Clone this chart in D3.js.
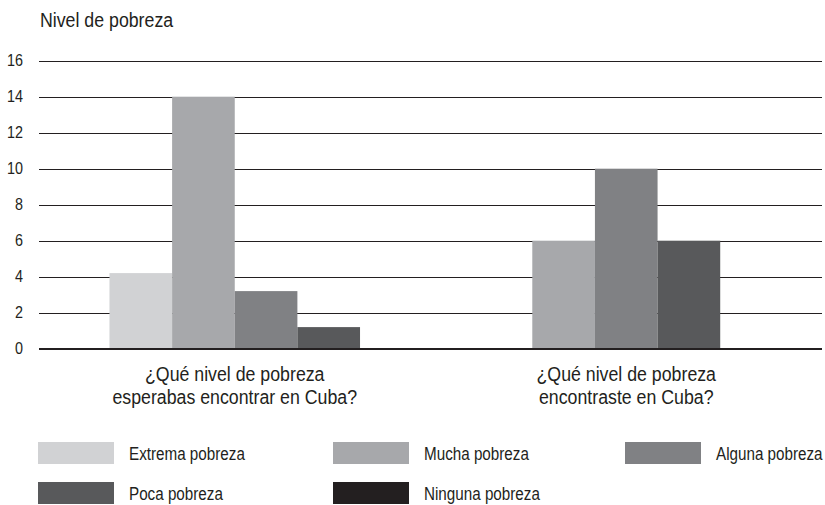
<!DOCTYPE html>
<html>
<head>
<meta charset="utf-8">
<script src="https://cdn.jsdelivr.net/npm/d3@7"></script>
<style>
  html, body { margin: 0; padding: 0; background: #fff; }
  svg { display: block; }
  text { font-family: "Liberation Sans", Arial, sans-serif; fill: #231f20; }
</style>
</head>
<body>
<svg id="chart" width="825" height="505"></svg>
<script>
const title = "Nivel de pobreza";
const categories = [
  ["¿Qué nivel de pobreza", "esperabas encontrar en Cuba?"],
  ["¿Qué nivel de pobreza", "encontraste en Cuba?"]
];
const series = ["Extrema pobreza", "Mucha pobreza", "Alguna pobreza", "Poca pobreza", "Ninguna pobreza"];
const colors = ["#d1d2d4", "#a7a8ab", "#808184", "#58595b", "#231f20"];
const valuesExpected = [4.2, 14, 3.2, 1.2, 0];
const valuesFound = [0, 6, 10, 6, 0];
const yTicks = [0, 2, 4, 6, 8, 10, 12, 14, 16];

const groups = [valuesExpected, valuesFound];
const svg = d3.select("#chart");
const SX = 0.87; // horizontal condensing of the text

const pLeft = 39, pRight = 822, pTop = 60.7, pBottom = 348.7;

const x0 = d3.scaleBand().domain(d3.range(categories.length)).range([pLeft, pRight]);
const y = d3.scaleLinear().domain([0, 16]).range([pBottom, pTop]);
const color = d3.scaleOrdinal().domain(series).range(colors);

function condText(parent, x, yy, size, str, anchor) {
  return parent.append("text")
    .attr("transform", `translate(${x},${yy}) scale(${SX},1)`)
    .attr("font-size", size)
    .attr("text-anchor", anchor || "start")
    .text(str);
}

// title
condText(svg, 40, 27, 20.4, title);

// y axis with gridlines
const yAxis = d3.axisLeft(y).tickValues(yTicks).tickSize(-(pRight - pLeft)).tickPadding(0).tickFormat(d3.format("d"));
const gAxis = svg.append("g").attr("transform", `translate(${pLeft},0)`).call(yAxis);
gAxis.select(".domain").remove();
gAxis.selectAll(".tick line").attr("stroke", "#231f20").attr("stroke-width", 1).attr("shape-rendering", "crispEdges");
gAxis.selectAll(".tick text")
  .attr("x", -16 / SX)
  .attr("transform", `scale(${SX},1)`)
  .attr("font-size", 16.5).attr("fill", "#231f20")
  .style("font-family", '"Liberation Sans", Arial, sans-serif');

// bars
const barW = x0.bandwidth() * 0.16;
groups.forEach((vals, gi) => {
  const visible = series.filter((s, i) => vals[i] > 0);
  const center = x0(gi) + x0.bandwidth() / 2;
  const x1 = d3.scaleBand().domain(visible)
    .range([center - visible.length * barW / 2, center + visible.length * barW / 2]);
  svg.append("g").selectAll("rect")
    .data(visible.map(s => ({ s, v: vals[series.indexOf(s)] })))
    .join("rect")
    .attr("x", d => x1(d.s))
    .attr("width", x1.bandwidth())
    .attr("y", d => y(d.v))
    .attr("height", d => y(0) - y(d.v))
    .attr("fill", d => color(d.s));
});

// baseline on top of bars
svg.append("line").attr("x1", pLeft).attr("x2", pRight).attr("y1", y(0)).attr("y2", y(0))
  .attr("stroke", "#231f20").attr("shape-rendering", "crispEdges");

// category labels
categories.forEach((lines, gi) => {
  const cx = x0(gi) + x0.bandwidth() / 2;
  lines.forEach((ln, li) => {
    condText(svg, cx, 381 + li * 22.5, 20.4, ln, "middle");
  });
});

// legend
const legendCols = [38, 333, 625];
const legendRows = [442, 482];
series.forEach((s, i) => {
  const col = i % 3, row = Math.floor(i / 3);
  const g = svg.append("g").attr("transform", `translate(${legendCols[col]},${legendRows[row]})`);
  g.append("rect").attr("width", 76).attr("height", 22).attr("fill", color(s));
  condText(g, 91, 17.5, 17.5, s);
});
</script>
</body>
</html>
